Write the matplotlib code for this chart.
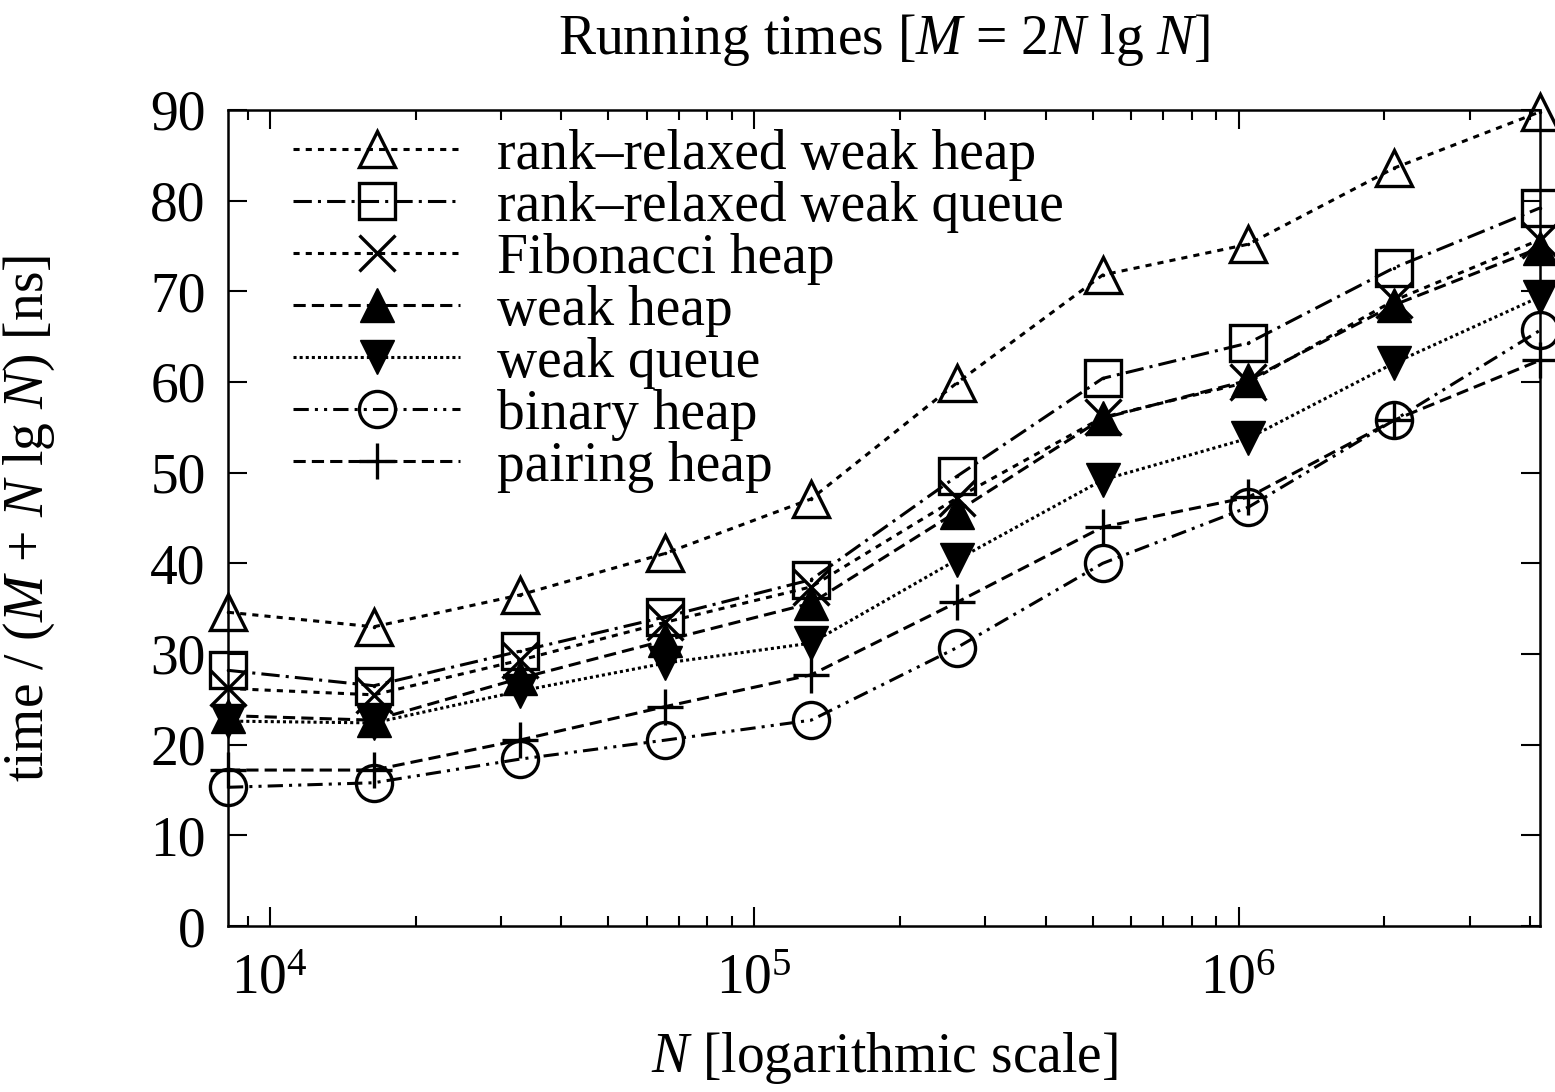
import matplotlib
matplotlib.use("Agg")
import matplotlib.pyplot as plt
from matplotlib.ticker import LogLocator, NullFormatter

plt.rcParams["font.family"] = ["Liberation Serif", "DejaVu Serif"]
plt.rcParams["mathtext.fontset"] = "custom"
plt.rcParams["mathtext.rm"] = "Liberation Serif"
plt.rcParams["mathtext.it"] = "Liberation Serif:italic"

# N = 2^13 .. 2^22
n_values = [8192, 16384, 32768, 65536, 131072, 262144, 524288, 1048576, 2097152, 4194304]

rr_weak_heap = [34.6, 33.0, 36.5, 41.1, 47.1, 59.9, 71.8, 75.2, 83.6, 89.8]
rr_weak_queue = [28.2, 26.5, 30.3, 34.1, 38.2, 49.6, 60.4, 64.3, 72.6, 79.2]
fibonacci_heap = [26.2, 25.5, 29.3, 33.5, 37.4, 47.2, 56.1, 60.0, 69.0, 75.7]
weak_heap = [23.2, 22.7, 27.3, 31.5, 35.6, 45.7, 56.0, 60.2, 68.5, 74.8]
weak_queue = [22.6, 22.4, 25.9, 29.0, 31.2, 40.4, 49.2, 53.8, 62.1, 69.4]
binary_heap = [15.3, 15.8, 18.4, 20.5, 22.7, 30.7, 40.0, 46.2, 55.8, 65.7]
pairing_heap = [17.2, 17.2, 20.5, 24.2, 27.7, 35.7, 44.0, 47.3, 55.8, 62.4]

labels = ["rank\u2013relaxed weak heap", "rank\u2013relaxed weak queue", "Fibonacci heap",
          "weak heap", "weak queue", "binary heap", "pairing heap"]
series = [rr_weak_heap, rr_weak_queue, fibonacci_heap, weak_heap, weak_queue, binary_heap, pairing_heap]
markers = ["^", "s", "x", "^", "v", "o", "+"]
filled = [False, False, False, True, True, False, False]
styles = [(0, (2, 2)), (0, (6, 2, 1, 2)), (0, (2, 2)), (0, (4, 2)),
          (0, (1, 1)), (0, (5, 2, 1, 2, 1, 2)), (0, (4, 2))]
dotted_center = [True, True, False, False, False, False, False]

fs = 40

fig = plt.figure(figsize=(15.55, 10.92), dpi=100)
ax = fig.add_axes([0.1466, 0.152, 0.9904 - 0.1466, 0.8993 - 0.152])

for vals, lab, m, f, ls, dc in zip(series, labels, markers, filled, styles, dotted_center):
    ax.plot(n_values, vals, color="black", linestyle=ls, linewidth=2.2,
            marker=m, markersize=26 if not f else 25, markeredgewidth=2.4 if not f else 1.0,
            markerfacecolor="black" if f else "none", markeredgecolor="black",
            label=lab, clip_on=False)
    if dc:
        ax.plot(n_values, vals, linestyle="none", marker=".", markersize=3,
                color="black", clip_on=False)

ax.set_xscale("log")
ax.set_xlim(8192, 4194304)
ax.set_ylim(0, 90)
ax.set_yticks(range(0, 91, 10))
ax.xaxis.set_minor_locator(LogLocator(base=10, subs=range(2, 10)))
ax.xaxis.set_minor_formatter(NullFormatter())

ax.tick_params(which="both", direction="in", top=True, right=True, labelsize=fs, width=1.5)
ax.tick_params(which="major", length=14)
ax.tick_params(which="minor", length=7)
ax.tick_params(axis="x", which="major", pad=20)
ax.tick_params(axis="y", which="major", pad=16)
for sp in ax.spines.values():
    sp.set_linewidth(1.8)

ax.set_title("Running times [$M$ = 2$N$ lg $N$]", fontsize=fs, pad=40)
ax.set_ylabel("time / ($M$ + $N$ lg $N$) [ns]", fontsize=fs)
ax.set_xlabel("$N$ [logarithmic scale]", fontsize=fs)
ax.yaxis.set_label_coords(-0.13, 0.5)
ax.xaxis.set_label_coords(0.5, -0.127)

ax.legend(loc="upper left", frameon=False, fontsize=fs, handlelength=3.0,
          labelspacing=0.0, handletextpad=0.67, borderaxespad=0.0,
          bbox_to_anchor=(0.033, 1.004))

fig.savefig("out.png", dpi=100)
